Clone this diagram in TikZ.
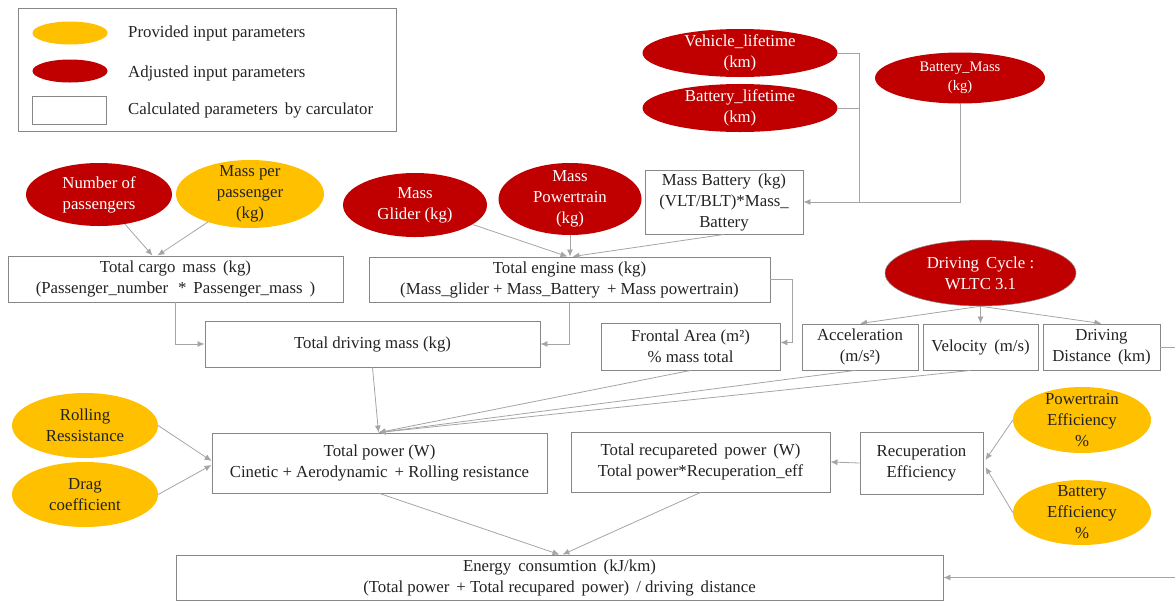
\documentclass[tikz,border=0pt]{standalone}
\usepackage{fontspec}
\setmainfont{Liberation Serif}
\usetikzlibrary{shapes.geometric,arrows.meta,calc}
\definecolor{dred}{RGB}{192,0,0}
\definecolor{gold}{RGB}{255,192,0}
\definecolor{edge}{RGB}{165,165,165}
\definecolor{boxline}{RGB}{135,135,135}
\definecolor{txt}{RGB}{35,35,35}
\begin{document}
\begin{tikzpicture}[x=1pt,y=-1pt,
  every node/.style={font=\fontsize{16.8}{21}\selectfont, text=txt},
  redell/.style={ellipse, fill=dred, draw=none, inner sep=0},
  yelell/.style={ellipse, fill=gold, draw=none, inner sep=0},
  wlab/.style={align=center, text=white, inner sep=0},
  blab/.style={align=center, text=txt, inner sep=0},
  box/.style={draw=boxline, fill=white, align=center, inner sep=0, line width=0.9pt},
  conn/.style={draw=edge, line width=0.8pt},
  arr/.style={conn, -{Latex[length=7pt,width=6pt]}}
]
\useasboundingbox (0,0) rectangle (1175,603);

% legend
\node[draw=boxline, line width=0.8pt, minimum width=378, minimum height=123, inner sep=0] (legend) at (207,69.5) {};
\node[yelell, minimum width=75, minimum height=23] (lgy) at (70,33) {};
\node[redell, minimum width=75, minimum height=23] (lgr) at (70,71) {};
\node[box, minimum width=74, minimum height=28] (lgb) at (69,110) {};
\node[anchor=west, inner sep=0] (lgyt) at (128,33) {Provided input parameters};
\node[anchor=west, inner sep=0] (lgrt) at (128,73) {Adjusted input parameters};
\node[anchor=west, inner sep=0] (lgbt) at (128,110) {Calculated parameters\, by carculator};

% top right battery
\node[redell, minimum width=195, minimum height=48, label={[wlab]center:{Vehicle\_lifetime\\(km)}}] (vl) at (740,53) {};
\node[redell, minimum width=195, minimum height=48, label={[wlab]center:{Battery\_lifetime\\(km)}}] (bl) at (740,108) {};
\node[redell, minimum width=170, minimum height=51, label={[wlab, font=\fontsize{14.5}{19}\selectfont]center:{Battery\_Mass\\(kg)}}] (bm) at (960,78) {};
\node[box, minimum width=158, minimum height=64] (mbat) at (724,202) {Mass Battery\, (kg)\\(VLT/BLT)*Mass\_\\Battery};

% cargo
\node[redell, minimum width=146, minimum height=63, label={[wlab]center:{Number of\\passengers}}] (nop) at (99,194.5) {};
\node[yelell, minimum width=148, minimum height=68, label={[blab]center:{Mass per\\passenger\\(kg)}}] (mpp) at (250,194) {};
\node[box, minimum width=335, minimum height=46] (cargo) at (175.5,279) {Total cargo\, mass\, (kg)\\(Passenger\_number\,\, *\, Passenger\_mass\, )};

% engine
\node[redell, minimum width=144, minimum height=64, label={[wlab]center:{Mass\\Glider (kg)}}] (mg) at (415,205) {};
\node[redell, minimum width=143, minimum height=72, label={[wlab]center:{Mass\\Powertrain\\(kg)}}] (mp) at (570,199) {};
\node[box, minimum width=401, minimum height=45] (engine) at (569.5,279.5) {Total engine mass (kg)\\(Mass\_glider + Mass\_Battery\, + Mass powertrain)};

% driving mass, frontal
\node[box, minimum width=335, minimum height=46] (drive) at (372.5,344) {Total driving mass (kg)};
\node[box, minimum width=179, minimum height=47] (frontal) at (690.5,346.5) {Frontal Area (m²)\\\% mass total};

% driving cycle
\node[redell, draw=boxline, line width=0.5pt, minimum width=191, minimum height=66, label={[wlab]center:{Driving\, Cycle :\\WLTC 3.1}}] (dc) at (980.5,273) {};
\node[box, minimum width=116, minimum height=46] (acc) at (860,347) {Acceleration\\(m/s²)};
\node[box, minimum width=115, minimum height=46] (vel) at (980.5,347) {Velocity\, (m/s)};
\node[box, minimum width=117, minimum height=46] (dist) at (1101.5,347) {Driving\\Distance\, (km)};

% power
\node[yelell, minimum width=146, minimum height=65, label={[blab]center:{Rolling\\Ressistance}}] (rr) at (85,425.5) {};
\node[yelell, minimum width=146, minimum height=65, label={[blab]center:{Drag\\coefficient}}] (dg) at (85,494.5) {};
\node[box, minimum width=335, minimum height=60] (tp) at (379.5,463) {Total power (W)\\Cinetic + Aerodynamic\, + Rolling resistance};
\node[box, minimum width=259, minimum height=60] (trp) at (700.5,462) {Total recupareted\, power\, (W)\\Total power*Recuperation\_eff};
\node[box, minimum width=123, minimum height=62] (re) at (921.5,463) {Recuperation\\Efficiency};
\node[yelell, minimum width=138, minimum height=66, label={[blab]center:{Powertrain\\Efficiency\\\%}}] (pe) at (1082,420) {};
\node[yelell, minimum width=138, minimum height=65, label={[blab]center:{Battery\\Efficiency\\\%}}] (be) at (1082,512.5) {};

% energy
\node[box, minimum width=767, minimum height=45] (energy) at (559.5,577.5) {Energy\, consumtion\, (kJ/km)\\(Total power\, + Total recupared\, power)\, / driving\, distance};

% connectors: battery
\draw[conn] (vl.east) -| ($(mbat.east)+(56,0)$);
\draw[conn] (bl.east) -- ($(bl.east)+(21.5,0)$);
\draw[arr] (bm.south) |- (mbat.east);

% cargo
\draw[arr] (nop) -- ($(cargo.north)+(-23,0)$);
\draw[arr] (mpp) -- ($(cargo.north)+(-18,0)$);

% engine
\draw[arr] (mg) -- ($(engine.north)+(-2,0)$);
\draw[arr] (mp.south) -- ($(engine.north)+(0.5,0)$);
\draw[arr] (mbat.south) -- ($(engine.north)+(3,0)$);

% driving mass
\draw[arr] (cargo.south) |- (drive.west);
\draw[arr] (engine.south) |- (drive.east);
\draw[arr] (engine.east) -- ($(engine.east)+(22,0)$) |- ($(frontal.east)+(0,-4)$);

% driving cycle
\draw[arr] (dc.south) -- (acc.north);
\draw[arr] (dc.south) -- (vel.north);
\draw[arr] (dc.south) -- (dist.north);
\draw[arr] (dist.east) -- ($(dist.east)+(40,0)$) |- (energy.east);

% total power inputs
\draw[arr] (drive.south) -- ($(tp.north)+(-1,0)$);
\draw[arr] (frontal.south) -- ($(tp.north)+(-1,0)$);
\draw[arr] ($(acc.south)+(-5,0)$) -- ($(tp.north)+(-1,0)$);
\draw[arr] ($(vel.south)+(-10,0)$) -- ($(tp.north)+(-1,0)$);
\draw[arr] (rr.east) -- ($(tp.west)+(0,-2)$);
\draw[arr] (dg.east) -- ($(tp.west)+(0,2)$);

% recuperation
\draw[arr] (re.west) -- (trp.east);
\draw[arr] (pe.west) -- ($(re.east)+(2,-3)$);
\draw[arr] (be.west) -- ($(re.east)+(2,4)$);

% energy
\draw[arr] (tp.south) -- (energy.north);
\draw[arr] (trp.south) -- ($(energy.north)+(3,0)$);
\end{tikzpicture}
\end{document}
